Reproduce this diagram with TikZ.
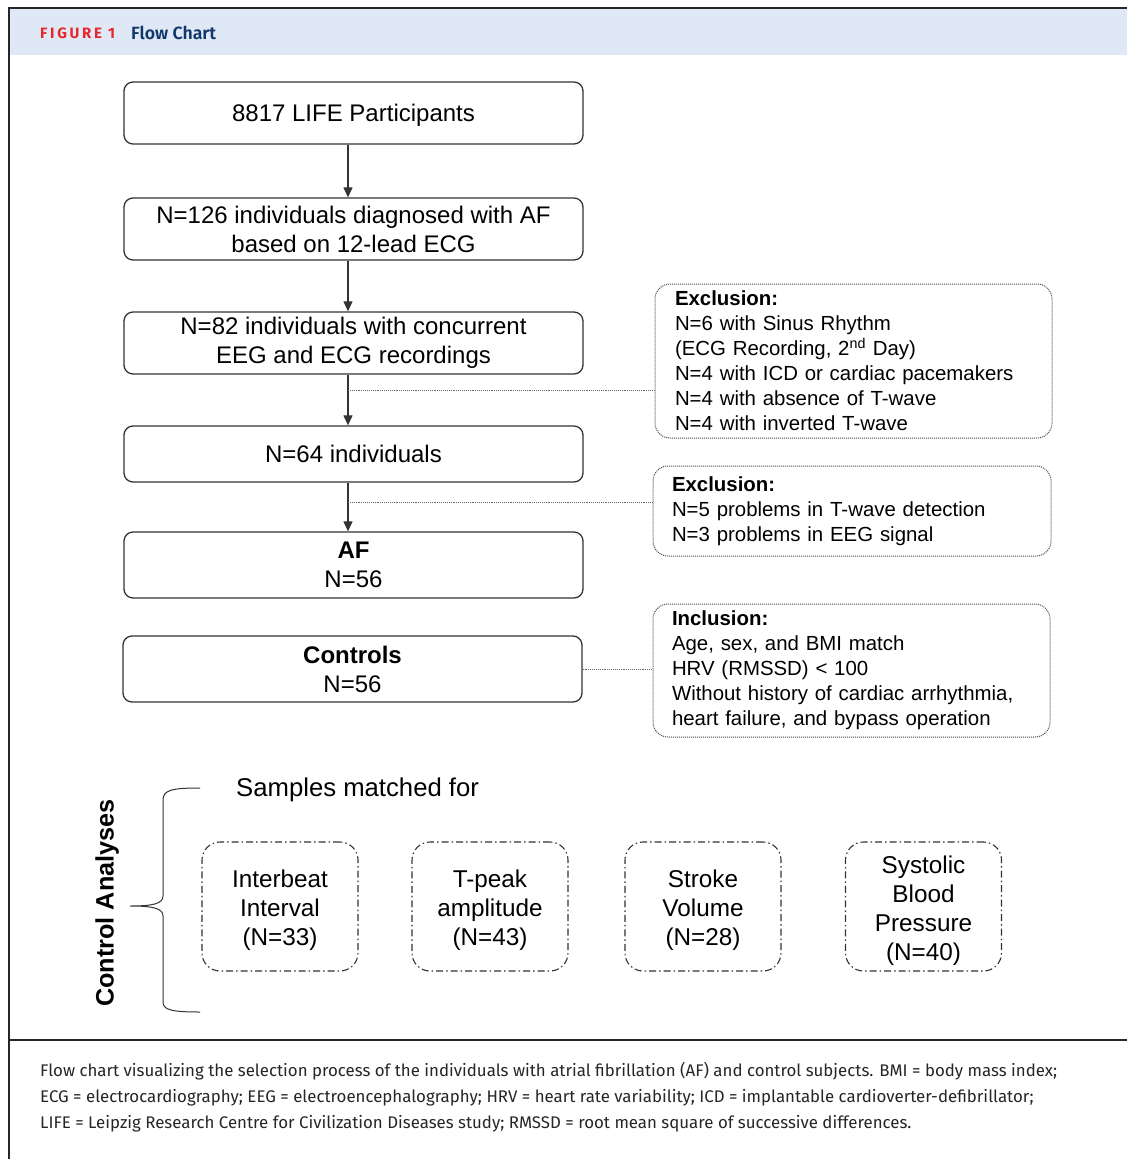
\documentclass[tikz,border=0pt]{standalone}
\usepackage{fontspec}
\setmainfont{Liberation Sans}
\newfontfamily\capfont{Fira Sans}
\newfontfamily\capfontb[LetterSpace=18]{Fira Sans Bold}
\newfontfamily\capfontsb{Fira Sans SemiBold}
\usetikzlibrary{arrows.meta}
\definecolor{hdrbg}{HTML}{DEE9F5}
\definecolor{figred}{HTML}{E8262D}
\definecolor{figblue}{HTML}{12386B}
\definecolor{linegray}{HTML}{333333}
\tikzset{
  mainbox/.style={draw=linegray, line width=1.3pt, rounded corners=9pt, minimum width=459pt, align=center, font=\fontsize{24}{29}\selectfont, inner sep=0pt},
  notebox/.style={draw=black!70, line width=1pt, densely dotted, rounded corners=15pt, align=left, font=\fontsize{20.4}{25}\selectfont, inner ysep=0pt, inner xsep=20pt},
  matchbox/.style={draw=linegray, line width=1.1pt, dash pattern=on 7pt off 3pt on 1.5pt off 3pt, rounded corners=18pt, minimum width=156pt, minimum height=129pt, inner sep=0pt},
  matchtxt/.style={align=center, font=\fontsize{24.3}{29}\selectfont, inner sep=0pt},
  arr/.style={draw=linegray, line width=1.2pt, -{Triangle[length=10pt,width=9pt]}},
  dotline/.style={draw=black!60, line width=0.9pt, densely dotted},
  captxt/.style={anchor=west, font=\capfont\fontsize{16.85}{20}\selectfont, inner sep=0pt, text=black!85}
}
\begin{document}
\begin{tikzpicture}[x=1pt, y=-1pt]
\useasboundingbox (0,0) rectangle (1127,1159);
\fill[white] (0,0) rectangle (1127,1159);
% header and frame
\fill[hdrbg] (9,9) rectangle (1127,55);
\draw[line width=2pt, black!85] (8,8) -- (1127,8);
\draw[line width=1.5pt, black!85] (9,8) -- (9,1159);
\draw[line width=2pt, black!85] (9,1040) -- (1127,1040);
\node[anchor=west, inner sep=0pt, text=figred, font=\capfontb\fontsize{15}{17}\selectfont] (fig) at (40,33.5) {FIGURE 1};
\node[anchor=west, inner sep=0pt, text=figblue, font=\capfontsb\fontsize{17.7}{19}\selectfont] (ttl) at (131,33) {Flow Chart};

% main boxes
\node[mainbox, minimum height=62pt, text depth=0pt] (p1) at (353.5,113) {8817 LIFE Participants};
\node[mainbox, minimum height=62pt] (p2) at (353.5,229) {N=126 individuals diagnosed with AF\\based on 12-lead ECG};
\node[mainbox, minimum height=62pt] (p3) at (353.5,343) {N=82 individuals with concurrent\\EEG and ECG recordings};
\node[mainbox, minimum height=56pt] (p4) at (353.5,454) {N=64 individuals};
\node[mainbox, minimum height=66pt] (p5) at (353.5,565) {\textbf{AF}\\N=56};
\node[mainbox, minimum height=66pt] (ctrl) at (352.5,669) {\textbf{Controls}\\N=56};

\draw[arr] ([xshift=-5.5pt]p1.south) -- ([xshift=-5.5pt]p2.north);
\draw[arr] ([xshift=-5.5pt]p2.south) -- ([xshift=-5.5pt]p3.north);
\draw[arr] ([xshift=-5.5pt]p3.south) -- ([xshift=-5.5pt]p4.north);
\draw[arr] ([xshift=-5.5pt]p4.south) -- ([xshift=-5.5pt]p5.north);

% note boxes
\node[notebox, minimum width=397pt, minimum height=154pt, text width=357pt] (ex1) at (853.5,361) {\textbf{Exclusion:}\\N=6 with Sinus Rhythm\\(ECG Recording, 2\textsuperscript{nd} Day)\\N=4 with ICD or cardiac pacemakers\\N=4 with absence of T-wave\\N=4 with inverted T-wave};
\node[notebox, minimum width=398pt, minimum height=90pt, text width=360pt, inner xsep=18pt] (ex2) at (852,511) {\textbf{Exclusion:}\\N=5 problems in T-wave detection\\N=3 problems in EEG signal};
\node[notebox, minimum width=397pt, minimum height=133pt, text width=359pt, inner xsep=19pt] (inc) at (851.5,670.5) {\textbf{Inclusion:}\\Age, sex, and BMI match\\HRV (RMSSD) < 100\\Without history of cardiac arrhythmia,\\heart failure, and bypass operation};

\coordinate (j1) at (348,390);
\coordinate (j2) at (348,502);
\draw[dotline] (j1) -- (j1 -| ex1.west);
\draw[dotline] (j2) -- (j2 -| ex2.west);
\draw[dotline] (ctrl.east) -- (ctrl.east -| inc.west);

% control analyses
\node[anchor=west, inner sep=0pt, font=\fontsize{25.7}{29}\selectfont] (smp) at (236,790) {Samples matched for};
\node[rotate=90, inner sep=0pt, font=\bfseries\fontsize{25.2}{29}\selectfont] (ca) at (107,903) {Control Analyses};
\draw[line width=1pt, linegray] (200,788) .. controls (172,788) and (163,790) .. (163,800) -- (163,896) .. controls (163,904) and (152,906) .. (130,906) .. controls (152,906) and (163,908) .. (163,916) -- (163,1002) .. controls (163,1010) and (172,1012) .. (200,1012);

\node[matchbox] (m1) at (280,906.5) {};
\node[matchbox] (m2) at (490,906.5) {};
\node[matchbox] (m3) at (703,906.5) {};
\node[matchbox] (m4) at (923.5,906.5) {};
\node[matchtxt] (m1t) at ([yshift=-4pt]m1.center) {Interbeat\\Interval\\(N=33)};
\node[matchtxt] (m2t) at ([yshift=-4pt]m2.center) {T-peak\\amplitude\\(N=43)};
\node[matchtxt] (m3t) at ([yshift=-4pt]m3.center) {Stroke\\Volume\\(N=28)};
\node[matchtxt] (m4t) at ([yshift=-4pt]m4.center) {Systolic\\Blood\\Pressure\\(N=40)};

% caption
\node[captxt] (c1) at (40,1071) {Flow chart visualizing the selection process of the individuals with atrial fibrillation (AF) and control subjects. BMI = body mass index;};
\node[captxt] (c2) at (40,1097.5) {ECG = electrocardiography; EEG = electroencephalography; HRV = heart rate variability; ICD = implantable cardioverter-defibrillator;};
\node[captxt] (c3) at (40,1124) {LIFE = Leipzig Research Centre for Civilization Diseases study; RMSSD = root mean square of successive differences.};
\end{tikzpicture}
\end{document}
